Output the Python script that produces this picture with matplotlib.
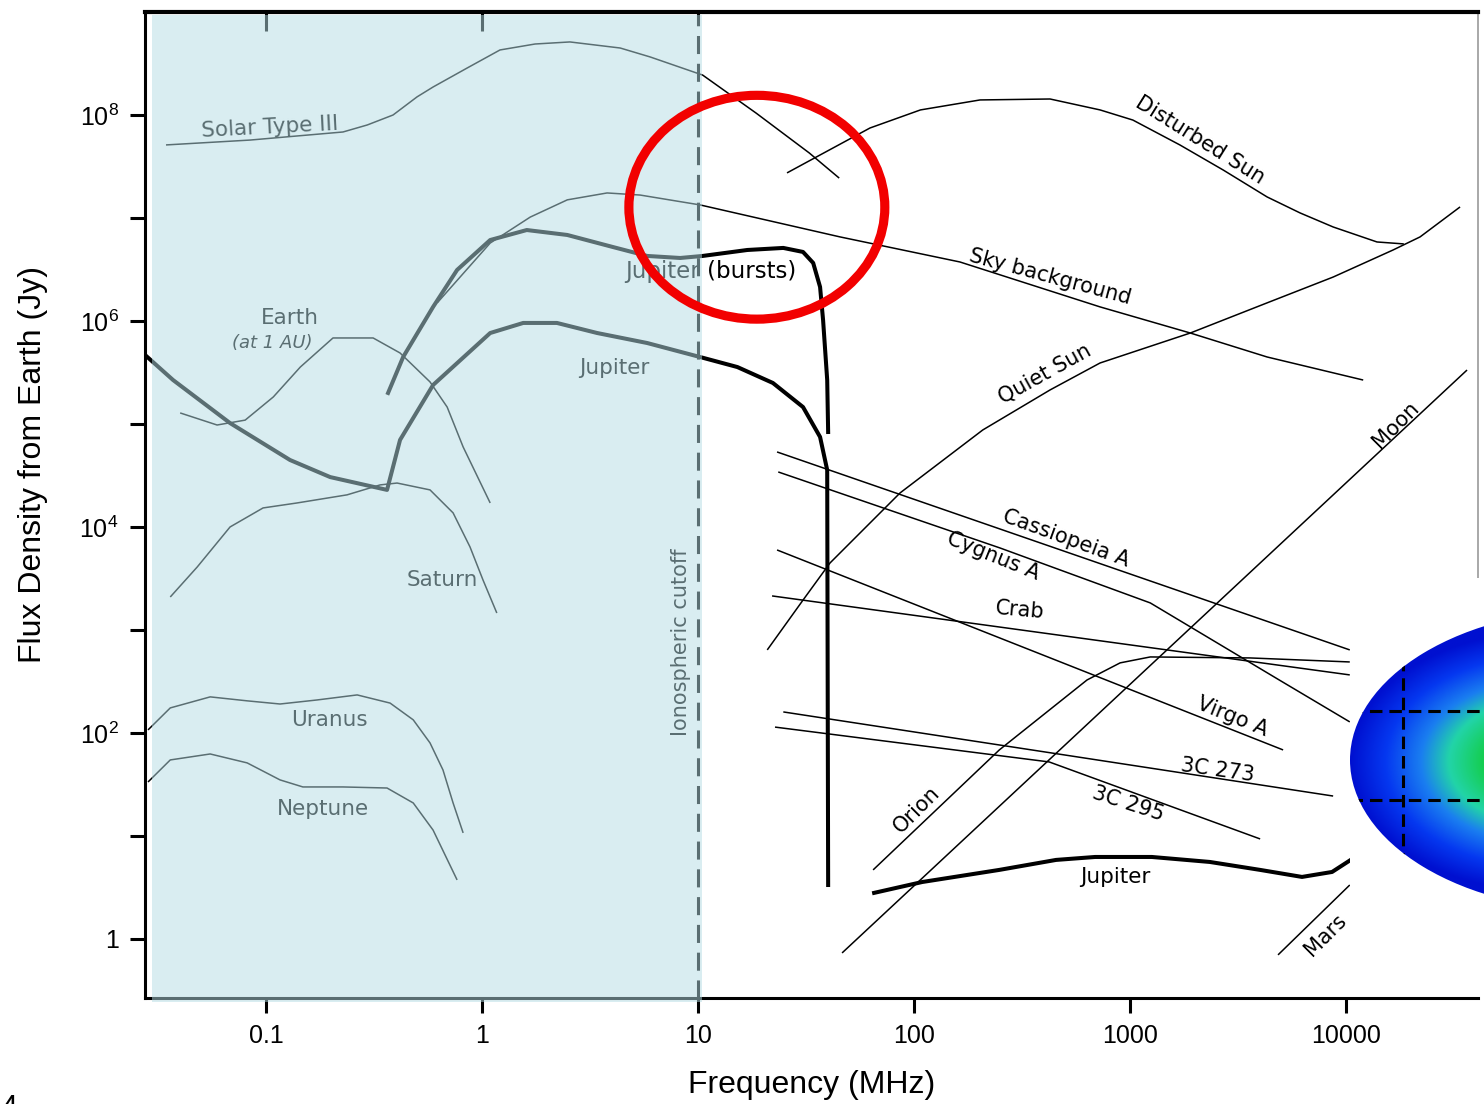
import numpy as np
import matplotlib
matplotlib.use("Agg")
import matplotlib.pyplot as plt
from matplotlib.patches import Rectangle, Ellipse
from matplotlib.transforms import blended_transform_factory
from matplotlib.ticker import FixedLocator, FixedFormatter, NullFormatter, NullLocator
from matplotlib.colors import LinearSegmentedColormap

plt.rcParams['font.family'] = ['Liberation Sans', 'DejaVu Sans']
plt.rcParams['mathtext.fontset'] = 'custom'
plt.rcParams['mathtext.rm'] = 'Liberation Sans'
plt.rcParams['mathtext.it'] = 'Liberation Sans:italic'
plt.rcParams['mathtext.bf'] = 'Liberation Sans:bold'
plt.rcParams['lines.scale_dashes'] = False

# ---------------- data (frequency in MHz, flux density in Jy) ----------------
solar3_f = [0.0344, 0.0843, 0.227, 0.294, 0.387, 0.500, 0.593, 0.853, 1.21, 1.76, 2.55, 4.36, 6.0, 10.5, 18.6, 32.7, 45.0]
solar3_s = [5.12e7, 5.71e7, 6.84e7, 8.0e7, 1.0e8, 1.50e8, 1.87e8, 2.86e8, 4.28e8, 4.89e8, 5.12e8, 4.47e8, 3.66e8, 2.44e8, 1.04e8, 4.28e7, 2.44e7]

dsun_f = [25.8, 36.7, 62.5, 107, 202, 426, 726, 1030, 1700, 2700, 4310, 6120, 8710, 13900, 18500]
dsun_s = [2.74e7, 4.09e7, 7.48e7, 1.12e8, 1.40e8, 1.43e8, 1.12e8, 8.93e7, 5.12e7, 2.92e7, 1.60e7, 1.12e7, 8.18e6, 5.85e6, 5.6e6]

qsun_f = [20.9, 30.6, 40.8, 86.1, 208, 426, 726, 1900, 4310, 8710, 16500, 22000, 33700]
qsun_s = [640, 1950, 4470, 2.14e4, 8.75e4, 2.14e5, 3.91e5, 7.64e5, 1.50e6, 2.67e6, 4.89e6, 6.55e6, 1.28e7]

sky_f = [0.62, 1.09, 1.67, 2.48, 3.79, 5.39, 10.2, 45.4, 163, 726, 1900, 4310, 12000]
sky_s = [1.5e6, 5.71e6, 1.02e7, 1.50e7, 1.75e7, 1.67e7, 1.34e7, 6.55e6, 3.74e6, 1.37e6, 7.64e5, 4.47e5, 2.67e5]

jupb_f = [0.367, 0.431, 0.593, 0.766, 1.09, 1.61, 2.48, 4.04, 5.81, 8.26, 10.5, 16.9, 24.8, 30.6, 34.1, 36.7, 37.9, 39.6, 40.0]
jupb_s = [2.00e5, 4.47e5, 1.37e6, 3.13e6, 6.11e6, 7.64e6, 6.84e6, 5.22e6, 4.28e6, 4.09e6, 4.28e6, 4.89e6, 5.12e6, 4.68e6, 3.66e6, 2.14e6, 1.02e6, 2.67e5, 8.36e4]

jup_f = [0.0275, 0.0371, 0.0681, 0.129, 0.198, 0.363, 0.417, 0.593, 1.09, 1.55, 2.22, 3.41, 5.81, 10.2, 15.2, 22.2, 30.6, 36.7, 39.6, 40.0]
jup_s = [4.68e5, 2.67e5, 1.02e5, 4.47e4, 3.05e4, 2.29e4, 7.0e4, 2.39e5, 7.64e5, 9.57e5, 9.57e5, 7.64e5, 6.11e5, 4.47e5, 3.57e5, 2.50e5, 1.46e5, 7.48e4, 3.57e4, 3.34]

jupd_f = [65.3, 109, 248, 454, 689, 1260, 2340, 4000, 6250, 8610, 10500]
jupd_s = [2.80, 3.57, 4.68, 5.85, 6.25, 6.25, 5.59, 4.68, 4.0, 4.47, 5.85]

earth_f = [0.0400, 0.0593, 0.0800, 0.108, 0.144, 0.204, 0.313, 0.417, 0.574, 0.689, 0.817, 1.09]
earth_s = [1.28e5, 9.77e4, 1.09e5, 1.83e5, 3.57e5, 6.84e5, 6.84e5, 4.89e5, 2.56e5, 1.46e5, 5.98e4, 1.71e4]

saturn_f = [0.0360, 0.0480, 0.0681, 0.0968, 0.139, 0.237, 0.337, 0.404, 0.574, 0.734, 0.879, 1.01, 1.17]
saturn_s = [2090, 4090, 1.0e4, 1.53e4, 1.71e4, 2.05e4, 2.56e4, 2.67e4, 2.29e4, 1.37e4, 6400, 3050, 1460]

uranus_f = [0.0284, 0.0360, 0.0551, 0.0817, 0.116, 0.172, 0.264, 0.375, 0.480, 0.574, 0.659, 0.734, 0.817]
uranus_s = [107, 175, 224, 205, 191, 209, 234, 195, 134, 80.0, 43.7, 20.9, 10.7]

neptune_f = [0.0284, 0.0360, 0.0551, 0.0817, 0.116, 0.148, 0.227, 0.363, 0.480, 0.593, 0.766]
neptune_s = [33.4, 54.7, 62.5, 51.2, 35.0, 29.9, 29.9, 29.2, 20.9, 11.4, 3.74]

casa_f, casa_s = [23.2, 10400], [5.35e4, 640]
cyga_f, cyga_s = [23.5, 250, 1240, 4900, 10400], [3.42e4, 6250, 1830, 327, 128]
crab_f, crab_s = [22.0, 10400], [2140, 366]
virgo_f, virgo_s = [23.2, 5110], [5980, 68.4]
c273_f, c273_s = [24.8, 8710], [160, 24.4]
c295_f, c295_s = [22.7, 422, 4000], [114, 52.3, 9.35]
orion_f = [64.6, 248, 632, 899, 1240, 3590, 10400]
orion_s = [4.68, 68.4, 327, 479, 547, 535, 489]
moon_f, moon_s = [46.4, 36300], [0.731, 3.34e5]
mars_f, mars_s = [4840, 10400], [0.700, 3.34]

x_ticks = [0.1, 1, 10, 100, 1000, 10000]
x_ticklabels = ['0.1', '1', '10', '100', '1000', '10000']
y_ticks = [1, 10, 1e2, 1e3, 1e4, 1e5, 1e6, 1e7, 1e8]
y_ticklabels = ['1', '', r'$10^{2}$', '', r'$10^{4}$', '', r'$10^{6}$', '', r'$10^{8}$']

cutoff_freq = 10

# ---------------- figure ----------------
W, H = 1484, 1104
fig = plt.figure(figsize=(W / 100, H / 100), dpi=100)
fig.patch.set_facecolor('white')
L, R, T, B = 145, 1478, 12, 998
ax = fig.add_axes([L / W, 1 - B / H, (R - L) / W, (B - T) / H])
ax.set_xscale('log')
ax.set_yscale('log')
ax.set_xlim(0.0275, 40800)
ax.set_ylim(0.267, 1.0e9)

thin = dict(color='black', lw=1.1, zorder=2, solid_capstyle='butt')
thick = dict(color='black', lw=2.9, zorder=2.2, solid_joinstyle='round')

for f, s in [(solar3_f, solar3_s), (dsun_f, dsun_s), (qsun_f, qsun_s), (sky_f, sky_s),
             (earth_f, earth_s), (saturn_f, saturn_s), (uranus_f, uranus_s),
             (neptune_f, neptune_s), (casa_f, casa_s), (cyga_f, cyga_s), (crab_f, crab_s),
             (virgo_f, virgo_s), (c273_f, c273_s), (c295_f, c295_s), (orion_f, orion_s),
             (moon_f, moon_s), (mars_f, mars_s)]:
    ax.plot(f, s, **thin)

for f, s in [(jupb_f, jupb_s), (jup_f, jup_s), (jupd_f, jupd_s)]:
    ax.plot(f, s, **thick)

# ionospheric cutoff
ax.axvline(cutoff_freq, color='black', lw=2.2, dashes=(13, 7), zorder=2)

# labels
lab = dict(color='black', zorder=3, family='DejaVu Sans', ha='center', va='center')
ax.text(0.104, 7.6e7, 'Solar Type III', fontsize=15.5, rotation=3, **lab)
ax.text(2110, 5.7e7, 'Disturbed Sun', fontsize=15, rotation=-32, **lab)
ax.text(426, 2.7e6, 'Sky background', fontsize=15, rotation=-15, **lab)
ax.text(404, 3.1e5, 'Quiet Sun', fontsize=15, rotation=29, **lab)
ax.text(11.4, 3.0e6, 'Jupiter (bursts)', fontsize=16.5, rotation=0, **lab)
ax.text(4.08, 3.5e5, 'Jupiter', fontsize=15.5, rotation=0, **lab)
ax.text(0.129, 1.07e6, 'Earth', fontsize=15.5, rotation=0, **lab)
ax.text(0.107, 6.1e5, '(at 1 AU)', fontsize=13, rotation=0, style='italic', **lab)
ax.text(0.653, 3060, 'Saturn', fontsize=15.5, rotation=0, **lab)
ax.text(0.196, 134, 'Uranus', fontsize=15.5, rotation=0, **lab)
ax.text(0.184, 18.3, 'Neptune', fontsize=15.5, rotation=0, **lab)
ax.text(8.35, 764, 'Ionospheric cutoff', fontsize=15, rotation=90, **lab)
ax.text(505, 7820, 'Cassiopeia A', fontsize=15, rotation=-20, **lab)
ax.text(232, 5230, 'Cygnus A', fontsize=15, rotation=-22, **lab)
ax.text(310, 1560, 'Crab', fontsize=15, rotation=-5, **lab)
ax.text(2970, 143, 'Virgo A', fontsize=15, rotation=-22, **lab)
ax.text(2530, 43.7, '3C 273', fontsize=15, rotation=-8, **lab)
ax.text(979, 20.5, '3C 295', fontsize=15, rotation=-18, **lab)
ax.text(103, 17.9, 'Orion', fontsize=15, rotation=45, **lab)
ax.text(853, 4.0, 'Jupiter', fontsize=15.5, rotation=0, **lab)
ax.text(16900, 9.8e4, 'Moon', fontsize=15, rotation=45, **lab)
ax.text(8000, 1.09, 'Mars', fontsize=15, rotation=45, **lab)

# shaded ionospheric region (semi-transparent wash over everything below 10 MHz)
btr = blended_transform_factory(ax.transData, ax.transAxes)
ax.add_patch(Rectangle((0.0297, -0.004), 10.45 - 0.0297, 1.001, transform=btr,
                       facecolor='#b4dce4', alpha=0.5, edgecolor='none',
                       zorder=5, clip_on=False))

# red highlight circle
ax.add_patch(Ellipse((0.459, 0.802), 0.192, 0.227, transform=ax.transAxes,
                     fill=False, edgecolor='#f20000', lw=6.6, zorder=8, clip_on=False))

# white cover for the overlapping inset
ax.add_patch(Rectangle((0.904, 0.008), 0.12, 0.418, transform=ax.transAxes,
                       facecolor='white', edgecolor='none', zorder=6, clip_on=False))

# axes styling
for sp in ['left', 'bottom']:
    ax.spines[sp].set_linewidth(2.2)
ax.spines['top'].set_linewidth(3.0)
ax.spines['right'].set_linewidth(1.2)
ax.spines['right'].set_color('#9a9a9a')
ax.spines['right'].set_bounds(3200, 1.0e9)

ax.xaxis.set_major_locator(FixedLocator(x_ticks))
ax.xaxis.set_major_formatter(FixedFormatter(x_ticklabels))
ax.xaxis.set_minor_locator(FixedLocator([0.1, 1]))
ax.xaxis.set_minor_formatter(NullFormatter())
ax.xaxis.remove_overlapping_locs = False
ax.yaxis.set_major_locator(FixedLocator(y_ticks))
ax.yaxis.set_major_formatter(FixedFormatter(y_ticklabels))
ax.yaxis.set_minor_locator(NullLocator())

ax.tick_params(axis='both', which='major', direction='out', length=11, width=2.2,
               labelsize=18, pad=8, top=False, right=False)
ax.tick_params(axis='x', which='minor', bottom=False, top=True, direction='in',
               length=14, width=2.2, labelbottom=False, labeltop=False)

ax.set_xlabel('Frequency (MHz)', fontsize=23)
ax.set_ylabel('Flux Density from Earth (Jy)', fontsize=23)
ax.xaxis.set_label_coords(0.5, -0.073)
ax.yaxis.set_label_coords(-0.073, 0.541)

# inset fragment (cropped colour map on the right)
inset = fig.add_axes([1350 / W, 1 - 910 / H, 142 / W, 310 / H], zorder=3)
inset.set_axis_off()
inset.set_xlim(1350, 1492)
inset.set_ylim(910, 600)
gx = np.linspace(1350, 1492, 200)
gy = np.linspace(600, 910, 300)
GX, GY = np.meshgrid(gx, gy)
field = np.clip(1 - np.sqrt(((GX - 1545) / 195) ** 2 + ((GY - 762) / 130) ** 2), 0, 1)
cmap = LinearSegmentedColormap.from_list(
    'blob', [(0.0, '#0010d0'), (0.25, '#0538f0'), (0.5, '#1a7ef0'),
             (0.7, '#22d4a8'), (1.0, '#12cc3c')])
im = inset.imshow(field, cmap=cmap, extent=(1350, 1492, 910, 600), origin='upper',
                  aspect='auto', interpolation='bilinear')
clip = Ellipse((1600, 760), 500, 302, transform=inset.transData, facecolor='none',
               edgecolor='none')
inset.add_patch(clip)
im.set_clip_path(clip)
for yy in [711, 800]:
    ln, = inset.plot([1350, 1492], [yy, yy], color='black', lw=2.2, dashes=(9, 5))
    ln.set_clip_path(clip)
ln, = inset.plot([1403, 1403], [600, 910], color='black', lw=2.2, dashes=(9, 5))
ln.set_clip_path(clip)

# cropped character at the bottom-left corner (only its top is visible, as in the source)
fig.text(0.0, -0.012, '4', fontsize=22, ha='left', va='baseline')

fig.savefig('out.png', dpi=100, facecolor='white')
